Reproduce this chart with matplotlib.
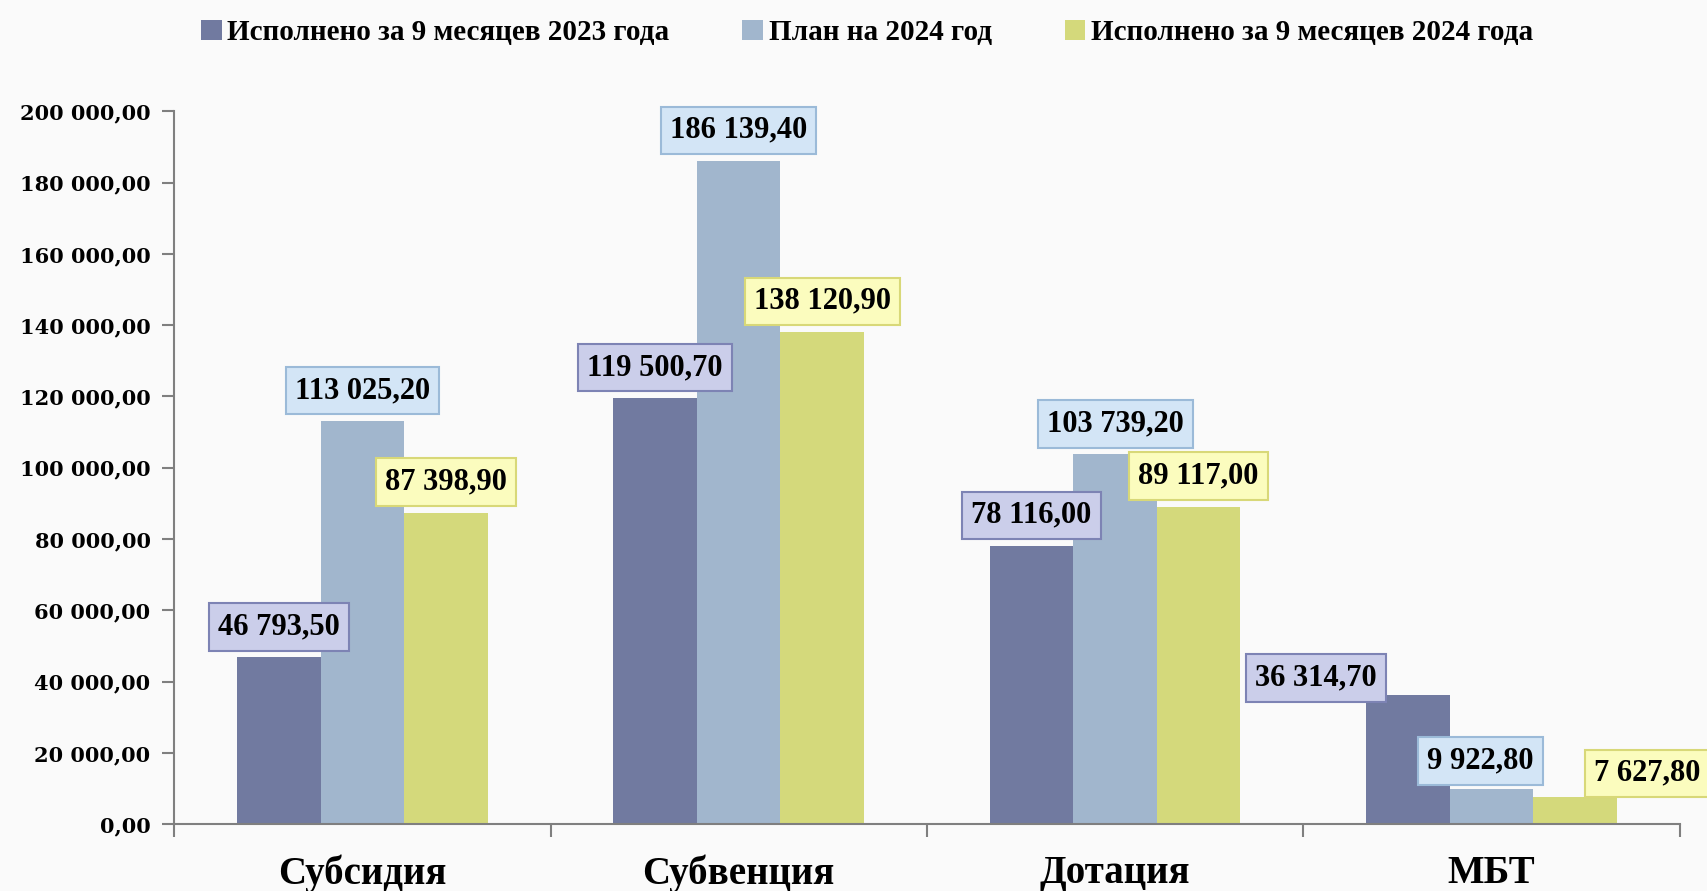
import matplotlib
matplotlib.use("Agg")
import matplotlib.pyplot as plt
import numpy as np
from matplotlib.ticker import FuncFormatter
from matplotlib.patches import Patch

categories = ["Субсидия", "Субвенция", "Дотация", "МБТ"]
series_names = ["Исполнено за 9 месяцев 2023 года", "План на 2024 год", "Исполнено за 9 месяцев 2024 года"]
done_2023 = [46793.50, 119500.70, 78116.00, 36314.70]
plan_2024 = [113025.20, 186139.40, 103739.20, 9922.80]
done_2024 = [87398.90, 138120.90, 89117.00, 7627.80]
yticks = [0, 20000, 40000, 60000, 80000, 100000, 120000, 140000, 160000, 180000, 200000]

bar_colors = ["#717AA0", "#A1B6CD", "#D4D97B"]
box_faces = ["#CBCEEA", "#D3E5F6", "#FBFCBE"]
box_edges = ["#7D83B4", "#9BBAD8", "#D8D878"]

serif = ["Liberation Serif", "DejaVu Serif"]
wide_serif = ["DejaVu Serif"]

def fmt(v):
    s = f"{v:,.2f}"
    return s.replace(",", " ").replace(".", ",")

fig = plt.figure(figsize=(17.07, 8.91), dpi=100)
fig.patch.set_facecolor("#FAFAFA")
ax = fig.add_axes([0.102, 0.075, 0.882, 0.800])
ax.set_facecolor("none")

x = np.arange(len(categories))
w = 0.222
series = [done_2023, plan_2024, done_2024]
# label offsets in points (dx, dy) per series per category
offsets = [
    [(0, 22), (0, 22), (0, 22), (-66, 12)],
    [(0, 22), (0, 22), (0, 22), (-8, 20)],
    [(0, 22), (0, 22), (0, 22), (52, 17)],
]
for i, vals in enumerate(series):
    bars = ax.bar(x + (i - 1) * w, vals, width=w, color=bar_colors[i], zorder=2)
    for j, (b, v) in enumerate(zip(bars, vals)):
        dx, dy = offsets[i][j]
        ax.annotate(fmt(v), (b.get_x() + b.get_width() / 2, v),
                    xytext=(dx, dy), textcoords="offset points",
                    ha="center", va="center", fontsize=22, fontweight="bold",
                    family=serif, color="black", zorder=5,
                    bbox=dict(boxstyle="square,pad=0.3", fc=box_faces[i],
                              ec=box_edges[i], lw=1.5))

ax.set_xlim(-0.5, 3.5)
ax.set_ylim(0, 200000)
ax.set_yticks(yticks)
ax.yaxis.set_major_formatter(FuncFormatter(lambda v, p: fmt(v)))
ax.set_xticks([-0.5, 0.5, 1.5, 2.5, 3.5])
ax.set_xticklabels([])
ax.set_xticks(x, minor=True)
ax.set_xticklabels(categories, minor=True)
ax.tick_params(axis="x", which="minor", length=0, pad=22, labelsize=28)
ax.tick_params(axis="x", which="major", length=9, width=1.5, color="#7F7F7F", direction="out")
ax.tick_params(axis="y", length=9, width=1.5, color="#7F7F7F", direction="out", labelsize=15, pad=8)
for lab in ax.get_xticklabels(minor=True):
    lab.set_fontfamily(serif)
    lab.set_fontweight("bold")
for lab in ax.get_yticklabels():
    lab.set_fontfamily(wide_serif)
    lab.set_fontweight("bold")

for s in ["top", "right"]:
    ax.spines[s].set_visible(False)
for s in ["left", "bottom"]:
    ax.spines[s].set_color("#7F7F7F")
    ax.spines[s].set_linewidth(1.5)

handles = [Patch(facecolor=c, edgecolor="none") for c in bar_colors]
fig.legend(handles, series_names, loc="upper center", bbox_to_anchor=(0.508, 1.008),
           ncol=3, frameon=False, handlelength=0.7, handleheight=0.7, handletextpad=0.2,
           columnspacing=2.5, prop={"family": serif, "weight": "bold", "size": 21})

fig.savefig("out.png", dpi=100, facecolor=fig.get_facecolor())
